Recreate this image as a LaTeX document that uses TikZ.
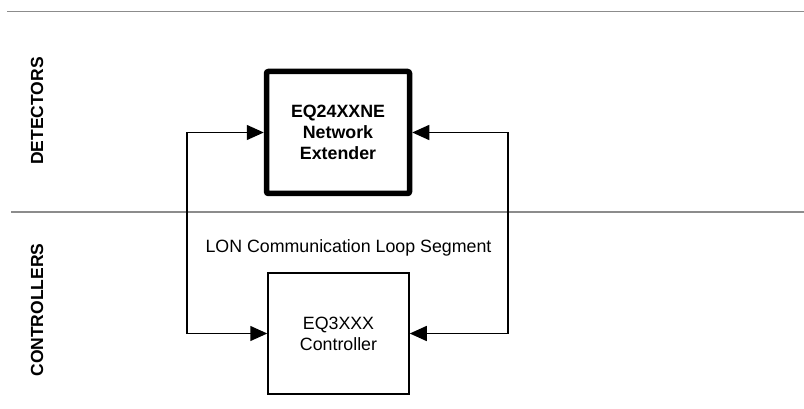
\documentclass[tikz,border=0pt]{standalone}
\usepackage{fontspec}
\setmainfont{Liberation Sans}
\usetikzlibrary{arrows.meta}
\begin{document}
\begin{tikzpicture}[x=1pt,y=-1pt,
  txt/.style={font=\fontsize{17.8}{20.8}\selectfont},
  sep/.style={draw=black!45,line width=1.5pt},
  thickbox/.style={draw,line width=5.5pt,rounded corners=2pt,minimum width=143pt,minimum height=122pt,align=center,inner sep=0pt,txt},
  thinbox/.style={draw,line width=1.5pt,minimum width=141pt,minimum height=121pt,align=center,inner sep=0pt,txt},
  conn/.style={line width=1.5pt,{Triangle[length=17pt,width=15pt]}-{Triangle[length=17pt,width=15pt]}},
  side/.style={rotate=90,txt,font=\fontsize{17.5}{20}\selectfont\bfseries}]
\useasboundingbox (0,0) rectangle (804,409);
\draw[sep] (7,11.5) coordinate (t1) -- (804,11.5) coordinate (t2);
\draw[sep] (11,212) coordinate (m1) -- (804,212) coordinate (m2);
\node[side] (detl) at (37,111) {DETECTORS};
\node[side] (ctll) at (37,310) {CONTROLLERS};
\node[thickbox] (det) at (338,132.5) {\bfseries EQ24XXNE\\\bfseries Network\\\bfseries Extender};
\node[thinbox] (ctl) at (338.5,333.5) {EQ3XXX\\Controller};
\node[txt] (lon) at (348.5,248) {LON Communication Loop Segment};
\coordinate (L) at (187,232);
\coordinate (R) at (508,232);
\draw[conn] (det.west) -| (L) |- (ctl.west);
\draw[conn] (det.east) -| (R) |- (ctl.east);
\end{tikzpicture}
\end{document}
